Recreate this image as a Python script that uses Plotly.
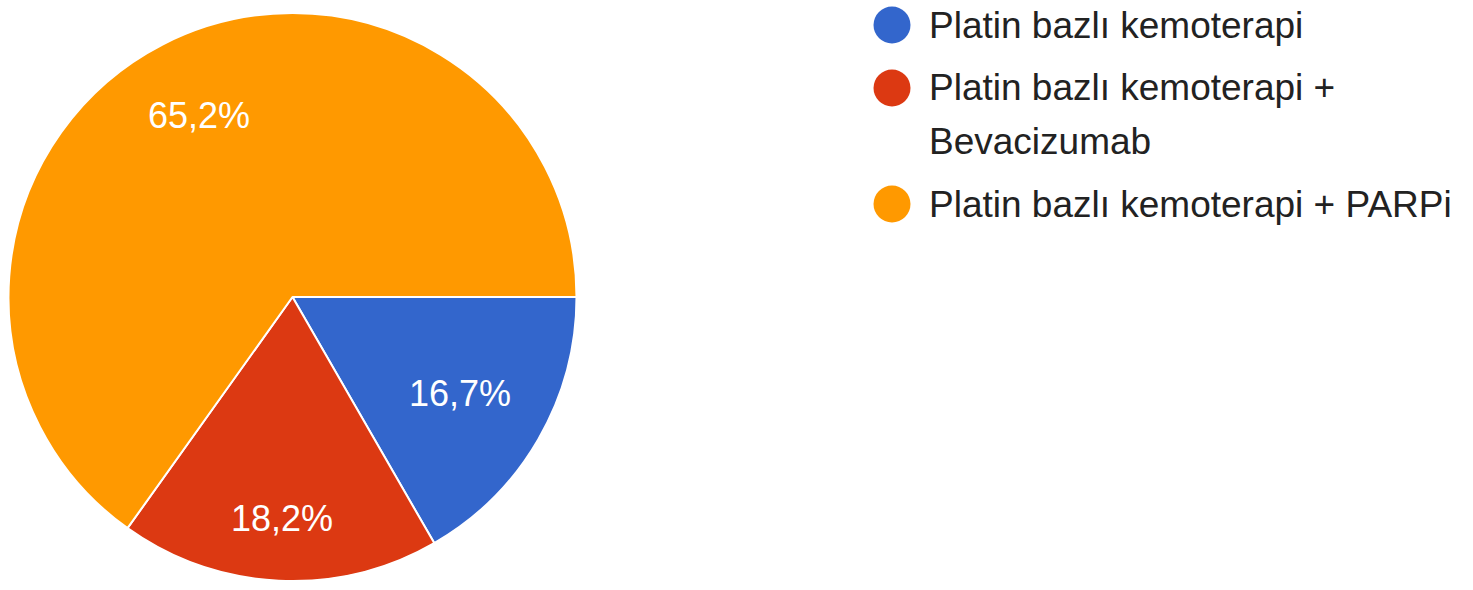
import math
import plotly.graph_objects as go

# Treatment groups and their shares (%)
labels = [
    "Platin bazlı kemoterapi",
    "Platin bazlı kemoterapi + Bevacizumab",
    "Platin bazlı kemoterapi + PARPi",
]
shares = [16.7, 18.2, 65.2]
colors = ["#3366CC", "#DC3912", "#FF9900"]

# Legend line wrapping (the long second label breaks before "Bevacizumab")
legend_lines = [
    ["Platin bazlı kemoterapi"],
    ["Platin bazlı kemoterapi +", "Bevacizumab"],
    ["Platin bazlı kemoterapi + PARPi"],
]

W, H = 1473, 590
FONT = "Liberation Sans, Arial, sans-serif"

# Pie geometry in pixels (centre, radius) and how far out each slice label sits
CX, CY, R = 292.5, 297.0, 284.0
label_radius = [0.68, 0.78, 0.72]

slice_text = [f"{v:.1f}%".replace(".", ",") for v in shares]

fig = go.Figure(
    go.Pie(
        labels=labels,
        values=shares,
        text=slice_text,
        textinfo="none",
        marker=dict(colors=colors, line=dict(color="white", width=2)),
        sort=False,
        direction="clockwise",
        rotation=90,
        showlegend=False,
        hoverinfo="label+text",
        domain=dict(x=[(CX - R) / W, (CX + R) / W],
                    y=[(H - CY - R) / H, (H - CY + R) / H]),
    )
)

annotations, shapes = [], []

# Percentage labels on the slices, placed along each slice's middle angle
total = sum(shares)
cum = 0.0
for v, txt, rf in zip(shares, slice_text, label_radius):
    theta = 2 * math.pi * (cum + v / 2) / total   # clockwise from 3 o'clock
    cum += v
    px = CX + rf * R * math.cos(theta)
    py = CY + rf * R * math.sin(theta)
    annotations.append(dict(
        text=txt, xref="paper", yref="paper",
        x=px / W, y=(H - py) / H,
        xanchor="center", yanchor="middle", showarrow=False,
        font=dict(family=FONT, size=36, color="white"),
    ))

# Custom legend: large round swatches with wrapped labels
y_top = 25          # centre of first legend row, px from top
item_gap = 63       # distance between legend items
line_gap = 53       # distance between wrapped lines
sw_x, sw_r, text_x = 892, 18.5, 927
y = y_top
for color, lines in zip(colors, legend_lines):
    shapes.append(dict(
        type="circle", xref="paper", yref="paper",
        x0=(sw_x - sw_r) / W, x1=(sw_x + sw_r) / W,
        y0=(H - y - sw_r) / H, y1=(H - y + sw_r) / H,
        fillcolor=color, line=dict(width=0),
    ))
    for i, line in enumerate(lines):
        ly = y + i * line_gap
        annotations.append(dict(
            text=line, xref="paper", yref="paper",
            x=text_x / W, y=(H - ly) / H,
            xanchor="left", yanchor="middle", showarrow=False,
            font=dict(family=FONT, size=37, color="#222222"),
        ))
    y += (len(lines) - 1) * line_gap + item_gap

fig.update_layout(
    width=W, height=H,
    margin=dict(l=0, r=0, t=0, b=0),
    paper_bgcolor="white", plot_bgcolor="white",
    shapes=shapes, annotations=annotations,
)

fig.write_html("out.html")
